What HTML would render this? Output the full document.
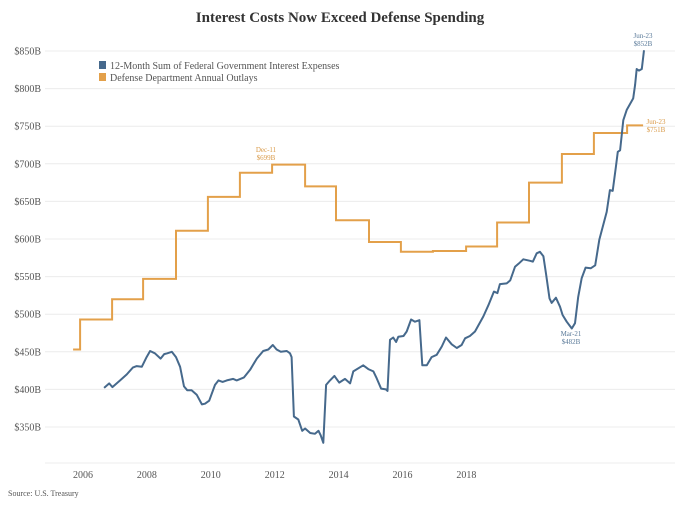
<!DOCTYPE html>
<html><head><meta charset="utf-8"><style>
html,body{margin:0;padding:0;background:#fff;}
svg{display:block;font-family:"Liberation Serif",serif;}
</style></head><body>
<svg id="chart" width="680" height="510" viewBox="0 0 680 510">
<text x="340" y="22" text-anchor="middle" font-size="15" font-weight="bold" fill="#333">Interest Costs Now Exceed Defense Spending</text>
<g id="grid"></g>
<g id="yaxis"></g>
<g id="xaxis"></g>
<path id="defense" fill="none" stroke="#e3a04a" stroke-width="2"/>
<path id="interest" fill="none" stroke="#46698c" stroke-width="2" stroke-linejoin="round"/>
<g>
<rect x="99" y="61" width="7" height="8" fill="#46698c"/>
<text x="110" y="69" font-size="10" fill="#555">12-Month Sum of Federal Government Interest Expenses</text>
<rect x="99" y="73" width="7" height="8" fill="#e3a04a"/>
<text x="110" y="81" font-size="10" fill="#555">Defense Department Annual Outlays</text>
</g>
<g font-size="7" text-anchor="middle">
<text x="266" y="152" fill="#d99a48">Dec-11</text>
<text x="266" y="160" fill="#d99a48">$699B</text>
<text x="643" y="38" fill="#5a7a99">Jun-23</text>
<text x="643" y="46" fill="#5a7a99">$852B</text>
<text x="656" y="124" fill="#d99a48">Jun-23</text>
<text x="656" y="132" fill="#d99a48">$751B</text>
<text x="571" y="336" fill="#5a7a99">Mar-21</text>
<text x="571" y="344" fill="#5a7a99">$482B</text>
</g>
<text x="8" y="496" font-size="8" fill="#555">Source: U.S. Treasury</text>
</svg>
<script>
const yTicks = [350,400,450,500,550,600,650,700,750,800,850];
const yTickLabels = ["$350B","$400B","$450B","$500B","$550B","$600B","$650B","$700B","$750B","$800B","$850B"];
const xTicks = [2006,2008,2010,2012,2014,2016,2018];
const xTickLabels = ["2006","2008","2010","2012","2014","2016","2018"];
const defenseYears = [2005.69,2005.91,2006.91,2007.88,2008.91,2009.91,2010.91,2011.92,2012.95,2013.92,2014.95,2015.95,2016.95,2017.99,2018.96,2019.96,2020.99,2021.99,2023.03];
const defenseValues = [453,493,520,547,611,656,688,699,670,625,596,583,584,590,622,675,713,741,751];
const defenseEnd = 2023.53;
const interestYears = [2006.66,2006.82,2006.92,2007.16,2007.37,2007.56,2007.68,2007.84,2007.99,2008.10,2008.25,2008.43,2008.54,2008.64,2008.78,2008.91,2009.04,2009.16,2009.26,2009.40,2009.56,2009.72,2009.82,2009.95,2010.13,2010.24,2010.37,2010.50,2010.70,2010.81,2011.04,2011.23,2011.44,2011.64,2011.80,2011.94,2012.06,2012.19,2012.38,2012.48,2012.53,2012.60,2012.74,2012.86,2012.95,2013.11,2013.26,2013.37,2013.44,2013.52,2013.61,2013.73,2013.87,2014.02,2014.20,2014.36,2014.46,2014.77,2014.93,2015.09,2015.19,2015.33,2015.48,2015.53,2015.61,2015.71,2015.80,2015.87,2016.03,2016.13,2016.27,2016.39,2016.53,2016.62,2016.76,2016.91,2017.07,2017.23,2017.36,2017.54,2017.70,2017.85,2017.96,2018.11,2018.27,2018.53,2018.69,2018.86,2018.97,2019.05,2019.26,2019.37,2019.52,2019.63,2019.78,2019.99,2020.08,2020.20,2020.30,2020.41,2020.49,2020.60,2020.67,2020.80,2020.93,2021.01,2021.14,2021.30,2021.40,2021.50,2021.61,2021.73,2021.89,2022.03,2022.16,2022.39,2022.49,2022.58,2022.68,2022.74,2022.81,2022.91,2023.02,2023.22,2023.28,2023.33,2023.40,2023.49,2023.56];
const interestValues = [402,408,403,412,420,429,431,430,443,451,448,441,447,448,450,443,430,404,399,399,393,380,381,385,406,412,410,412,414,412,416,426,441,451,453,459,453,450,451,448,443,364,360,345,348,342,341,345,339,329,406,412,418,409,414,408,424,432,427,424,415,401,400,398,466,469,463,470,471,477,493,490,492,432,432,443,446,457,469,460,455,459,468,471,477,497,512,530,528,540,541,545,563,567,573,571,570,581,583,577,554,521,515,522,510,499,490,481,488,523,548,562,561,565,599,636,665,664,696,716,718,758,772,787,805,826,824,826,851];

function xs(yr){ return 83 + (yr-2006)*31.95; }
function ys(v){ return 51 + (850-v)*0.752; }
const NS="http://www.w3.org/2000/svg";
const grid=document.getElementById('grid'), yax=document.getElementById('yaxis'), xax=document.getElementById('xaxis');
yTicks.forEach((t,i)=>{
  const l=document.createElementNS(NS,'line');
  
  
  l.setAttribute('x1',45);l.setAttribute('x2',675);l.setAttribute('y1',ys(t));l.setAttribute('y2',ys(t));
  l.setAttribute('stroke','#ececec');l.setAttribute('stroke-width','1');
  grid.appendChild(l);
  const tx=document.createElementNS(NS,'text');
  
  
  tx.setAttribute('x',41);tx.setAttribute('y',ys(t)+3.5);tx.setAttribute('text-anchor','end');
  tx.setAttribute('font-size','10');tx.setAttribute('fill','#555');
  tx.textContent=yTickLabels[i];
  yax.appendChild(tx);
});
const base=document.createElementNS(NS,'line');


base.setAttribute('x1',45);base.setAttribute('x2',675);base.setAttribute('y1',463);base.setAttribute('y2',463);
base.setAttribute('stroke','#ececec');
grid.appendChild(base);
xTicks.forEach((t,i)=>{
  const tx=document.createElementNS(NS,'text');
  
  
  tx.setAttribute('x',xs(t));tx.setAttribute('y',478);tx.setAttribute('text-anchor','middle');
  tx.setAttribute('font-size','10');tx.setAttribute('fill','#555');
  tx.textContent=xTickLabels[i];
  xax.appendChild(tx);
});
let d='';
defenseYears.forEach((yr,i)=>{
  const next = i<defenseYears.length-1 ? defenseYears[i+1] : defenseEnd;
  d += (i===0?'M':'L')+xs(yr).toFixed(1)+','+ys(defenseValues[i]).toFixed(1)+' L'+xs(next).toFixed(1)+','+ys(defenseValues[i]).toFixed(1)+' ';
});
document.getElementById('defense').setAttribute('d',d);
let p='';
interestYears.forEach((yr,i)=>{ p+=(i===0?'M':'L')+xs(yr).toFixed(1)+','+ys(interestValues[i]).toFixed(1)+' '; });
document.getElementById('interest').setAttribute('d',p);
</script>
</body></html>
